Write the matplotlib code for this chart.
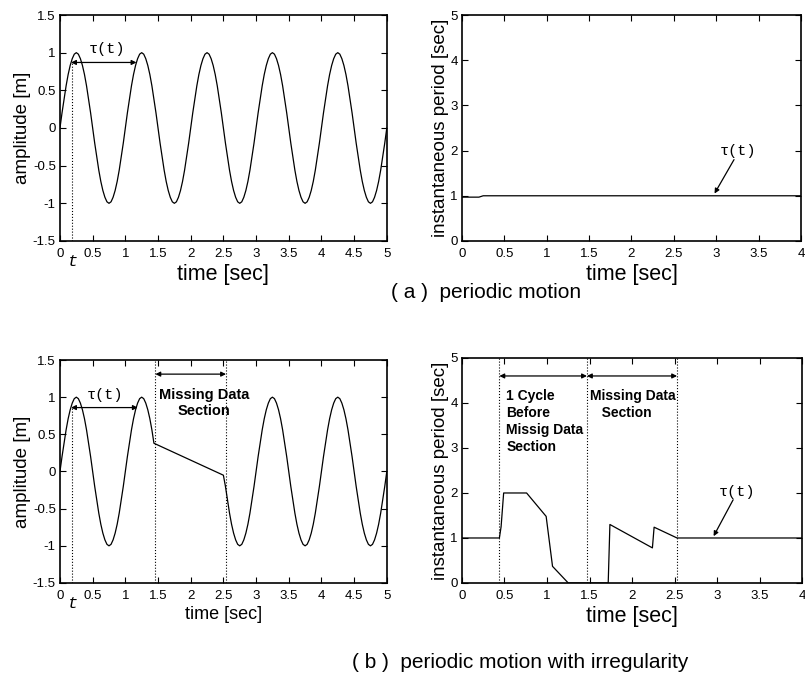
import numpy as np
import matplotlib
matplotlib.use('Agg')
import matplotlib.pyplot as plt

plt.rcParams['font.family'] = ['Liberation Sans', 'DejaVu Sans']

# %% data ---------------------------------------------------------------------

# one cycle of the oscillation, read every 1/32 sec
cycle = [0, 0.20, 0.38, 0.56, 0.71, 0.83, 0.92, 0.98,
         1.0, 0.98, 0.92, 0.83, 0.71, 0.56, 0.38, 0.20,
         0, -0.20, -0.38, -0.56, -0.71, -0.83, -0.92, -0.98,
         -1.0, -0.98, -0.92, -0.83, -0.71, -0.56, -0.38, -0.20]

# (a) regular motion, 0..5 sec
time_a = np.linspace(0, 5, 161)
amp_a = cycle * 5 + [0]

# (b) irregular motion: data up to 1.4375 s, then again from 2.5 s
time_b1 = np.linspace(0, 1.4375, 47)
amp_b1 = cycle + cycle[:15]
time_b2 = np.linspace(2.5, 5, 81)
amp_b2 = [-0.05] + cycle[17:] + cycle * 2 + [0]
time_b = np.concatenate([time_b1, time_b2])
amp_b = amp_b1 + amp_b2

# instantaneous period, regular case
per_t_a = [0, 0.2, 0.25, 4.0]
per_a = [0.97, 0.97, 1.0, 1.0]

# instantaneous period, irregular case
per_t_b = [0, 0.44, 0.46, 0.49, 0.76, 0.99, 1.065, 1.23, 1.25, 1.72,
           1.74, 2.24, 2.26, 2.53, 4.0]
per_b = [1.0, 1.0, 1.25, 2.0, 2.0, 1.48, 0.37, 0.04, 0, 0,
         1.3, 0.78, 1.24, 1.0, 1.0]

amp_ticks = [-1.5, -1, -0.5, 0, 0.5, 1, 1.5]
amp_labels = ['-1.5', '-1', '-0.5', '0', '0.5', '1', '1.5']
t5_ticks = [0, 0.5, 1, 1.5, 2, 2.5, 3, 3.5, 4, 4.5, 5]
t5_labels = ['0', '0.5', '1', '1.5', '2', '2.5', '3', '3.5', '4', '4.5', '5']
t4_ticks = [0, 0.5, 1, 1.5, 2, 2.5, 3, 3.5, 4]
t4_labels = ['0', '0.5', '1', '1.5', '2', '2.5', '3', '3.5', '4']
per_ticks = [0, 1, 2, 3, 4, 5]
per_labels = ['0', '1', '2', '3', '4', '5']

# %% figure -------------------------------------------------------------------

fig = plt.figure(figsize=(8.05, 6.79), dpi=100)
ax_tl = fig.add_axes([0.0745, 0.6451, 0.406, 0.3328])
ax_tr = fig.add_axes([0.5739, 0.6451, 0.4211, 0.3328])
ax_bl = fig.add_axes([0.0745, 0.1414, 0.406, 0.3284])
ax_br = fig.add_axes([0.5739, 0.1414, 0.4224, 0.3314])

mono = 'Liberation Mono'
arrow2 = dict(arrowstyle='<|-|>', color='black', lw=0.9, mutation_scale=7,
              shrinkA=0, shrinkB=0)
arrow1 = dict(arrowstyle='-|>', color='black', lw=0.9, mutation_scale=7,
              shrinkA=0, shrinkB=0)


def style(ax, xt, xl, yt, yl, xlab, ylab, xsize):
    ax.set_xticks(xt)
    ax.set_xticklabels(xl)
    ax.set_yticks(yt)
    ax.set_yticklabels(yl)
    ax.set_xlim(xt[0], xt[-1])
    ax.set_ylim(yt[0], yt[-1])
    ax.tick_params(direction='in', top=True, right=True, length=4,
                   width=0.8, labelsize=9.5)
    ax.tick_params(axis='x', pad=5)
    ax.tick_params(axis='y', pad=3)
    ax.set_xlabel(xlab, fontsize=xsize, labelpad=3)
    ax.set_ylabel(ylab, fontsize=13.5, labelpad=1)
    for s in ax.spines.values():
        s.set_linewidth(1.2)


# (a) amplitude
ax = ax_tl
ax.plot(time_a, amp_a, color='black', lw=0.9)
ax.plot([0.18, 0.18], [-1.5, 0.87], ':', color='black', lw=0.8)
ax.annotate('', xy=(0.17, 0.87), xytext=(1.17, 0.87), arrowprops=arrow2)
ax.text(0.72, 1.05, 'τ(t)', family=mono, fontsize=11, ha='center', va='center')
ax.text(0.19, -0.09, 't', family=mono, style='italic', fontsize=12,
        ha='center', va='center', transform=ax.get_xaxis_transform())
style(ax, t5_ticks, t5_labels, amp_ticks, amp_labels,
      'time [sec]', 'amplitude [m]', 15.5)

# (a) period
ax = ax_tr
ax.plot(per_t_a, per_a, color='black', lw=0.9)
ax.annotate('', xy=(2.98, 1.05), xytext=(3.21, 1.8), arrowprops=arrow1)
ax.text(3.26, 2.0, 'τ(t)', family=mono, fontsize=11, ha='center', va='center')
style(ax, t4_ticks, t4_labels, per_ticks, per_labels,
      'time [sec]', 'instantaneous period [sec]', 15.5)

# (b) amplitude
ax = ax_bl
ax.plot(time_b, amp_b, color='black', lw=0.9)
ax.plot([0.19, 0.19], [-1.5, 0.86], ':', color='black', lw=0.8)
for x in [1.46, 2.54]:
    ax.plot([x, x], [-1.5, 1.5], ':', color='black', lw=0.8)
ax.annotate('', xy=(0.17, 0.86), xytext=(1.19, 0.86), arrowprops=arrow2)
ax.annotate('', xy=(1.46, 1.31), xytext=(2.54, 1.31), arrowprops=arrow2)
ax.text(0.69, 1.03, 'τ(t)', family=mono, fontsize=11, ha='center', va='center')
ax.text(2.2, 0.92, 'Missing Data\nSection', fontsize=10.5, fontweight='bold',
        ha='center', va='center', linespacing=1.2)
ax.text(0.19, -0.09, 't', family=mono, style='italic', fontsize=12,
        ha='center', va='center', transform=ax.get_xaxis_transform())
style(ax, t5_ticks, t5_labels, amp_ticks, amp_labels,
      'time [sec]', 'amplitude [m]', 13)

# (b) period
ax = ax_br
ax.plot(per_t_b, per_b, color='black', lw=0.9)
for x in [0.44, 1.47, 2.53]:
    ax.plot([x, x], [0, 5], ':', color='black', lw=0.8)
ax.annotate('', xy=(0.44, 4.6), xytext=(1.47, 4.6), arrowprops=arrow2)
ax.annotate('', xy=(1.47, 4.6), xytext=(2.53, 4.6), arrowprops=arrow2)
ax.text(0.52, 4.3, '1 Cycle\nBefore\nMissig Data\nSection', fontsize=10,
        fontweight='bold', ha='left', va='top', linespacing=1.25)
ax.text(1.5, 4.3, 'Missing Data\n   Section', fontsize=10,
        fontweight='bold', ha='left', va='top', linespacing=1.25)
ax.annotate('', xy=(2.96, 1.04), xytext=(3.19, 1.85), arrowprops=arrow1)
ax.text(3.24, 2.02, 'τ(t)', family=mono, fontsize=11, ha='center', va='center')
style(ax, t4_ticks, t4_labels, per_ticks, per_labels,
      'time [sec]', 'instantaneous period [sec]', 15.5)

fig.text(0.604, 0.5685, '( a )  periodic motion', fontsize=15,
         ha='center', va='center')
fig.text(0.646, 0.0236, '( b )  periodic motion with irregularity', fontsize=15,
         ha='center', va='center')

fig.savefig('out.png', dpi=100)
